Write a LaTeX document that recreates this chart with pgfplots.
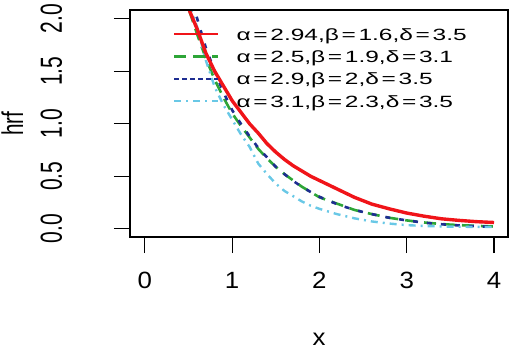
\documentclass[border=0pt]{standalone}
\usepackage{pgfplots}
\pgfplotsset{compat=1.18}
\usepackage{fontspec}
\setmainfont{Liberation Sans}
\newfontfamily\xfont{Liberation Sans}[FakeStretch=1.1]
\newfontfamily\rotfont{Liberation Sans}[FakeStretch=0.69]
\newfontfamily\legfont{Liberation Sans}[FakeStretch=1.5]
\definecolor{cred}{RGB}{240,20,25}
\definecolor{cgreen}{RGB}{45,165,55}
\definecolor{cblue}{RGB}{30,45,145}
\definecolor{ccyan}{RGB}{105,200,230}
\begin{document}
\begin{tikzpicture}
\begin{axis}[
  name=main,
  scale only axis,
  width=378bp, height=227bp,
  xmin=-0.17, xmax=4.16,
  ymin=-0.078, ymax=2.083,
  xtick={0,1,2,3,4},
  ytick={0,0.5,1,1.5,2},
  yticklabels={0.0,0.5,1.0,1.5,2.0},
  xticklabels={0,1,2,3,4},
  xtick pos=bottom, ytick pos=left,
  tick align=outside,
  major tick length=16bp,
  axis line style={line width=1.2bp, black},
  every tick/.style={line width=1.2bp, black},
  xticklabel style={font=\xfont\fontsize{23.5bp}{26bp}\selectfont, anchor=base},
  xticklabel shift=35.5bp,
  yticklabel style={font=\rotfont\fontsize{30.5bp}{32bp}\selectfont, rotate=90, anchor=base},
  yticklabel shift=52bp,
  xlabel={x},
  ylabel={hrf},
  x label style={font=\xfont\fontsize{23.5bp}{26bp}\selectfont, at={(axis description cs:0.5,-0.48)}, anchor=base},
  y label style={font=\rotfont\fontsize{30bp}{32bp}\selectfont, at={(axis description cs:-0.283,0.5)}, anchor=base},
  legend style={at={(axis description cs:0.1132,0.921)}, anchor=north west, draw=none, fill=none,
    inner sep=0pt, row sep=10.3bp, column sep=17bp,
    font=\legfont\fontsize{16.3bp}{18bp}\selectfont,
    nodes={inner sep=0pt, text height=12bp, text depth=0bp}},
  legend cell align=left,
  legend image code/.code={\draw[#1] (0bp,0bp) -- (44bp,0bp);},
]
\addlegendimage{cred, line width=2.6bp}
\addlegendentry{α\,=\,2.94,β\,=\,1.6,δ\,=\,3.5}
\addlegendimage{cgreen, line width=2.4bp, dash pattern=on 12bp off 7bp}
\addlegendentry{α\,=\,2.5,β\,=\,1.9,δ\,=\,3.1}
\addlegendimage{cblue, line width=2.4bp, dash pattern=on 5bp off 3bp}
\addlegendentry{α\,=\,2.9,β\,=\,2,δ\,=\,3.5}
\addlegendimage{ccyan, line width=2bp, dash pattern=on 7bp off 5bp on 2bp off 5bp}
\addlegendentry{α\,=\,3.1,β\,=\,2.3,δ\,=\,3.5}

\addplot[forget plot, cgreen, line width=2.6bp, dash pattern=on 12bp off 7bp] coordinates {
(0.45,2.25) (0.5,2.1) (0.6,1.85) (0.7,1.62) (0.8,1.42) (0.9,1.25) (1.0,1.1) (1.1,0.98) (1.2,0.87)
(1.3,0.76) (1.4,0.67) (1.5,0.59) (1.6,0.52) (1.7,0.46) (1.8,0.40) (1.9,0.35) (2.0,0.30)
(2.2,0.24) (2.4,0.18) (2.6,0.14) (2.8,0.105) (3.0,0.08) (3.2,0.06) (3.4,0.045) (3.6,0.035)
(3.8,0.028) (4.0,0.022)};
\addplot[forget plot, cblue, line width=2.6bp, dash pattern=on 5bp off 9bp] coordinates {
(0.45,2.4) (0.5,2.25) (0.6,2.0) (0.7,1.72) (0.8,1.5) (0.9,1.3) (1.0,1.13) (1.1,1.0) (1.2,0.88)
(1.3,0.77) (1.4,0.68) (1.5,0.59) (1.6,0.52) (1.7,0.455) (1.8,0.40) (1.9,0.35) (2.0,0.305)
(2.2,0.235) (2.4,0.18) (2.6,0.14) (2.8,0.105) (3.0,0.08) (3.2,0.058) (3.4,0.043) (3.6,0.032)
(3.8,0.024) (4.0,0.018)};
\addplot[forget plot, ccyan, line width=2.4bp, dash pattern=on 7bp off 5bp on 2bp off 5bp] coordinates {
(0.45,2.3) (0.5,2.15) (0.6,1.92) (0.7,1.6) (0.8,1.35) (0.9,1.18) (1.0,1.04) (1.1,0.9) (1.2,0.78)
(1.3,0.62) (1.4,0.52) (1.5,0.43) (1.6,0.36) (1.7,0.31) (1.8,0.26) (1.9,0.22) (2.0,0.19)
(2.2,0.14) (2.4,0.10) (2.6,0.07) (2.8,0.05) (3.0,0.035) (3.2,0.027) (3.4,0.022) (3.6,0.02)
(3.8,0.018) (4.0,0.017)};
\addplot[forget plot, cred, line width=3.4bp] coordinates {
(0.4,2.45) (0.5,2.1) (0.6,1.9) (0.7,1.67) (0.8,1.5) (0.9,1.36) (1.0,1.22) (1.1,1.11) (1.2,1.0)
(1.3,0.91) (1.4,0.81) (1.5,0.73) (1.6,0.66) (1.7,0.60) (1.8,0.55) (1.9,0.50) (2.0,0.46)
(2.2,0.38) (2.4,0.30) (2.6,0.235) (2.8,0.19) (3.0,0.15) (3.2,0.12) (3.4,0.095) (3.6,0.08)
(3.8,0.068) (4.0,0.06)};
\end{axis}
\draw[line width=1.6bp, black] (main.south west) rectangle (main.north east);
\pgfresetboundingbox
\path ([shift={(-130bp,-114bp)}]main.south west) rectangle ([shift={(6bp,10bp)}]main.north east);
\end{tikzpicture}
\end{document}
